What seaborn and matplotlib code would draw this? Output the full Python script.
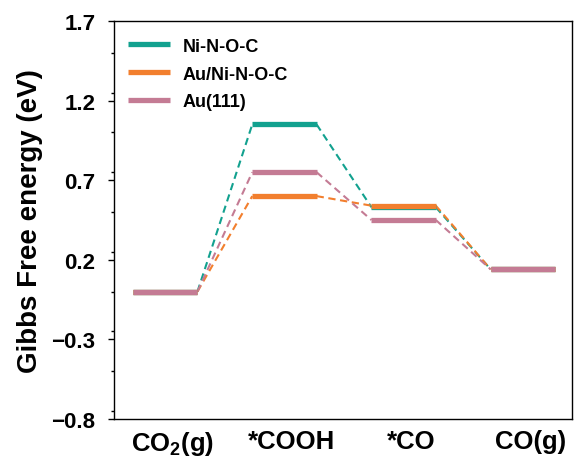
import matplotlib
matplotlib.use("Agg")
import matplotlib.pyplot as plt
import matplotlib.transforms as mtransforms
import seaborn as sns
from matplotlib.ticker import MultipleLocator

sns.set_theme(style="ticks")
plt.rcParams['font.family'] = ['Liberation Sans', 'DejaVu Sans']
plt.rcParams['font.weight'] = 'bold'
plt.rcParams['text.color'] = 'black'
plt.rcParams['axes.labelcolor'] = 'black'
plt.rcParams['xtick.color'] = 'black'
plt.rcParams['ytick.color'] = 'black'
plt.rcParams['mathtext.fontset'] = 'custom'
plt.rcParams['mathtext.rm'] = 'Liberation Sans:bold'
plt.rcParams['mathtext.bf'] = 'Liberation Sans:bold'

steps = ["CO$_2$(g)", "*COOH", "*CO", "CO(g)"]
series = ["Ni-N-O-C", "Au/Ni-N-O-C", "Au(111)"]
ni_n_o_c = [0.0, 1.05, 0.53, 0.14]
au_ni_n_o_c = [0.0, 0.60, 0.54, 0.14]
au_111 = [0.0, 0.75, 0.45, 0.14]
values = [ni_n_o_c, au_ni_n_o_c, au_111]
colors = ["#12a18f", "#f27f2e", "#c47b94"]
yticks = [-0.8, -0.3, 0.2, 0.7, 1.2, 1.7]

fig = plt.figure(figsize=(5.74, 4.64), dpi=100)
ax = fig.add_axes([0.1986, 0.0948, 0.7974, 0.8578])

hw = 0.27
for name, vals, c in zip(series, values, colors):
    for i, v in enumerate(vals):
        ax.plot([i - hw, i + hw], [v, v], color=c, lw=3.8, solid_capstyle='butt',
                label=name if i == 0 else None, zorder=3)
    for i in range(len(vals) - 1):
        ax.plot([i + hw, i + 1 - hw], [vals[i], vals[i + 1]], color=c, lw=1.5,
                ls=(0, (3.5, 2.2)), zorder=2)

ax.set_xlim(-0.43, 3.41)
ax.set_ylim(-0.8, 1.7)
ax.set_yticks(yticks)
ax.set_yticklabels([f"{t:.1f}".replace("-", "\u2212") for t in yticks])
ax.yaxis.set_minor_locator(MultipleLocator(0.25))
ax.set_xticks(range(len(steps)))
ax.set_xticklabels(steps, fontsize=18.5, fontweight='bold')
ax.tick_params(axis='x', length=0, pad=7)
ax.tick_params(axis='y', which='major', length=4.3, width=1, labelsize=16, direction='out', pad=9)
ax.tick_params(axis='y', which='minor', length=2.4, width=1, direction='out')
for lab in ax.get_yticklabels():
    lab.set_fontweight('bold')
shift = mtransforms.ScaledTranslation(5.4 / 72, 0, fig.dpi_scale_trans)
for lab in ax.get_xticklabels():
    lab.set_transform(lab.get_transform() + shift)
ax.set_ylabel("Gibbs Free energy (eV)", fontsize=20, fontweight='bold', labelpad=6)
for s in ax.spines.values():
    s.set_linewidth(1.0)
    s.set_color('black')

leg = ax.legend(loc='upper left', frameon=False, fontsize=13, handlelength=2.33,
                borderaxespad=0.0, borderpad=0.0, labelspacing=0.6, handletextpad=0.72,
                bbox_to_anchor=(0.030, 0.958))
for t in leg.get_texts():
    t.set_fontweight('bold')

fig.savefig("out.png", dpi=100)
